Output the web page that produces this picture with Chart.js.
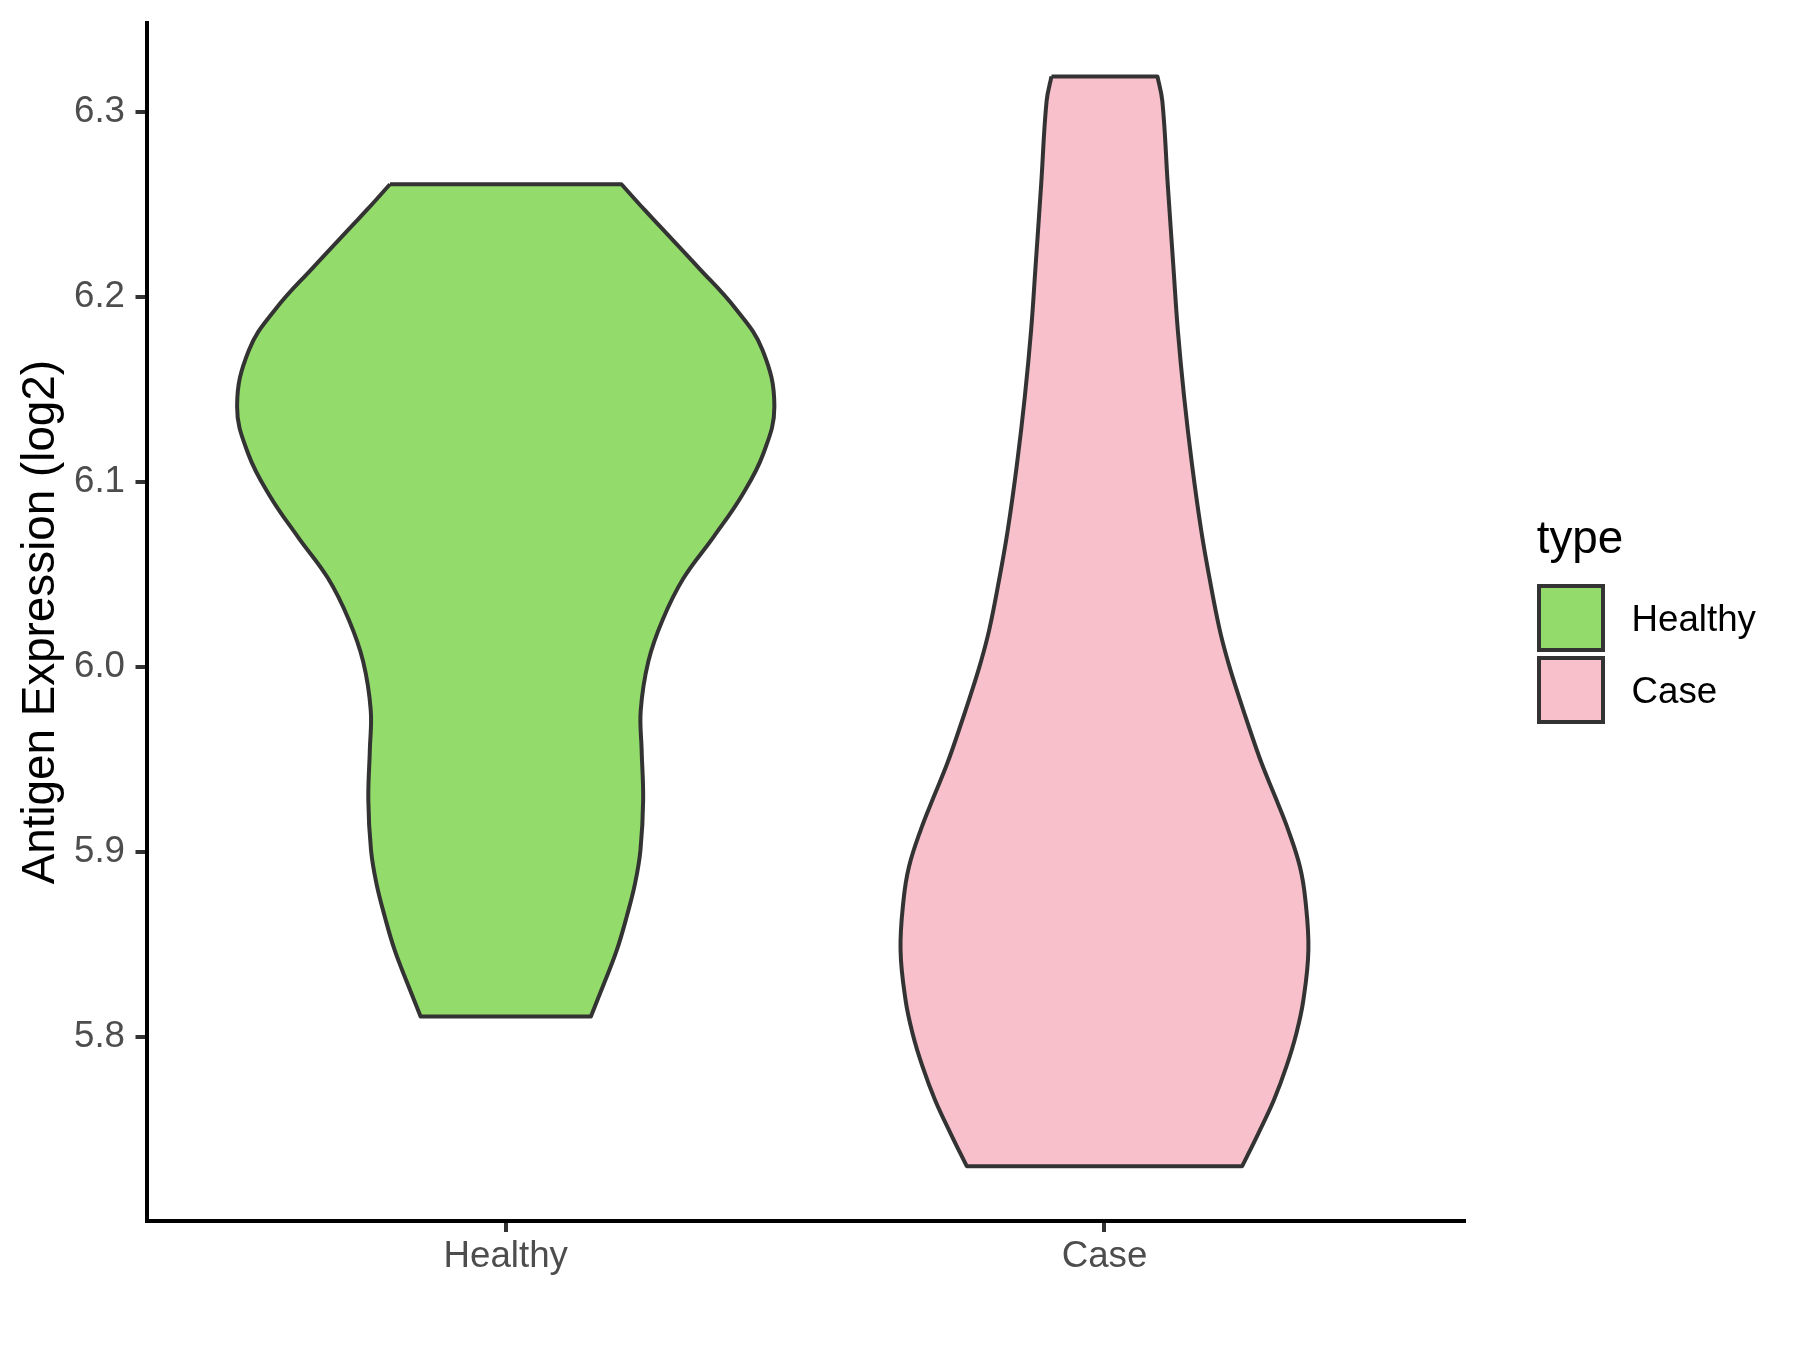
<!DOCTYPE html>
<html>
<head>
<meta charset="utf-8">
<script src="https://cdn.jsdelivr.net/npm/chart.js@4.4.1/dist/chart.umd.min.js"></script>
<style>
  html, body { margin: 0; padding: 0; background: #ffffff; }
  #wrap { position: relative; width: 1800px; height: 1350px; background: #ffffff; font-family: "Liberation Sans", Arial, sans-serif; }
  #c { position: absolute; left: 0; top: 0; }
  .lg-title { position: absolute; font-size: 45.8px; line-height: 45.8px; color: #000; white-space: nowrap; }
  .lg-key { position: absolute; box-sizing: border-box; width: 68px; height: 68px; border: 4px solid #333333; }
  .lg-label { position: absolute; font-size: 36.7px; line-height: 36.7px; color: #000; white-space: nowrap; }
</style>
</head>
<body>
<div id="wrap">
  <canvas id="c" width="1800" height="1350"></canvas>
</div>
<script>
// ---- data ----
const categories = ['Healthy', 'Case'];
const fillColors = ['#93DB6B', '#F7C0CB'];
const yTickValues = [5.8, 5.9, 6.0, 6.1, 6.2, 6.3];
const yAxisTitle = 'Antigen Expression (log2)';
const legendTitle = 'type';

// violin outline: expression value and half-width (in category units)
const healthyY = [6.2608, 6.2469, 6.2383, 6.2159, 6.1935, 6.1711, 6.1408, 6.1150, 6.0926, 6.0702, 6.0478, 6.0254, 6.0029, 5.9765, 5.9550, 5.9279, 5.9009, 5.8829, 5.8649, 5.8469, 5.8289, 5.8110];
const healthyHalfWidth = [0.1933, 0.2320, 0.2569, 0.3215, 0.3840, 0.4290, 0.4487, 0.4300, 0.3945, 0.3472, 0.2968, 0.2621, 0.2382, 0.2255, 0.2270, 0.2295, 0.2250, 0.2160, 0.2020, 0.1856, 0.1643, 0.1422];

const caseY = [6.3191, 6.3056, 6.2608, 6.2159, 6.1820, 6.1460, 6.1099, 6.0739, 6.0469, 6.0199, 6.0018, 5.9838, 5.9658, 5.9478, 5.9298, 5.9117, 5.8919, 5.8739, 5.8469, 5.8198, 5.8018, 5.7838, 5.7658, 5.7478, 5.7300];
const caseHalfWidth = [0.0885, 0.0967, 0.1057, 0.1152, 0.1225, 0.1330, 0.1460, 0.1615, 0.1760, 0.1925, 0.2072, 0.2245, 0.2430, 0.2625, 0.2850, 0.3070, 0.3265, 0.3356, 0.3406, 0.3322, 0.3205, 0.3038, 0.2830, 0.2571, 0.2300];

const yMin = 5.7004, yMax = 6.3478;
const xMin = 0.4, xMax = 2.6;

// ---- build closed violin outlines ----
function violinPoints(center, ys, hws) {
  const n = ys.length;
  const pts = [];
  // left side, top -> bottom (corners duplicated to keep them sharp)
  for (let i = 0; i < n; i++) {
    const p = {x: center - hws[i], y: ys[i]};
    pts.push(p);
    if (i === 0 || i === n - 1) pts.push({x: p.x, y: p.y});
  }
  // right side, bottom -> top
  for (let i = n - 1; i >= 0; i--) {
    const p = {x: center + hws[i], y: ys[i]};
    pts.push(p);
    if (i === 0 || i === n - 1) pts.push({x: p.x, y: p.y});
  }
  pts.push({x: center - hws[0], y: ys[0]});
  return pts;
}

const seriesY = [healthyY, caseY];
const seriesHW = [healthyHalfWidth, caseHalfWidth];

const datasets = categories.map((name, i) => ({
  label: name,
  data: violinPoints(i + 1, seriesY[i], seriesHW[i]),
  showLine: true,
  fill: 'shape',
  backgroundColor: fillColors[i],
  borderColor: '#333333',
  borderWidth: 4,
  borderJoinStyle: 'round',
  tension: 0.4,
  pointRadius: 0,
  pointHoverRadius: 0,
  clip: false
}));

const FONT = '"Liberation Sans", Arial, sans-serif';

new Chart(document.getElementById('c'), {
  type: 'scatter',
  data: { datasets },
  options: {
    responsive: false,
    devicePixelRatio: 1,
    animation: false,
    events: [],
    layout: { padding: { left: 0, top: 23.3, right: 336.3, bottom: 0 } },
    plugins: { legend: { display: false }, tooltip: { enabled: false } },
    scales: {
      x: {
        type: 'linear', min: xMin, max: xMax,
        afterBuildTicks: (axis) => { axis.ticks = categories.map((c, i) => ({ value: i + 1 })); },
        afterFit: (scale) => { scale.height = 129; scale.paddingLeft = 0; scale.paddingRight = 0; },
        ticks: {
          callback: (v) => categories[Math.round(v) - 1] || '',
          color: '#4D4D4D', font: { family: FONT, size: 36.7 }, padding: 2.6, maxRotation: 0, autoSkip: false
        },
        grid: { display: true, drawOnChartArea: false, drawTicks: true, tickLength: 11, color: '#333333', lineWidth: 4 },
        border: { display: true, color: '#000000', width: 4 }
      },
      y: {
        type: 'linear', min: yMin, max: yMax,
        afterBuildTicks: (axis) => { axis.ticks = yTickValues.map(v => ({ value: v })); },
        afterFit: (scale) => { scale.width = 146.5; scale.paddingTop = 0; scale.paddingBottom = 0; },
        ticks: {
          callback: (v) => Number(v).toFixed(1),
          color: '#4D4D4D', font: { family: FONT, size: 36.7 }, padding: 10.5, autoSkip: false
        },
        grid: { display: true, drawOnChartArea: false, drawTicks: true, tickLength: 11, color: '#333333', lineWidth: 4 },
        border: { display: true, color: '#000000', width: 4 },
        title: { display: true, text: yAxisTitle, color: '#000000', font: { family: FONT, size: 45.8 }, padding: { top: 13.5, bottom: 0 } }
      }
    }
  }
});

// ---- legend (HTML text) ----
const wrap = document.getElementById('wrap');
const t = document.createElement('div');
t.className = 'lg-title'; t.textContent = legendTitle;
t.style.left = '1536.7px'; t.style.top = '514.5px';
wrap.appendChild(t);
categories.forEach((name, i) => {
  const k = document.createElement('div');
  k.className = 'lg-key';
  k.style.left = '1537px'; k.style.top = (584 + i * 72) + 'px';
  k.style.background = fillColors[i];
  wrap.appendChild(k);
  const l = document.createElement('div');
  l.className = 'lg-label'; l.textContent = name;
  l.style.left = '1631.5px'; l.style.top = (601 + i * 72) + 'px';
  wrap.appendChild(l);
});
</script>
</body>
</html>
